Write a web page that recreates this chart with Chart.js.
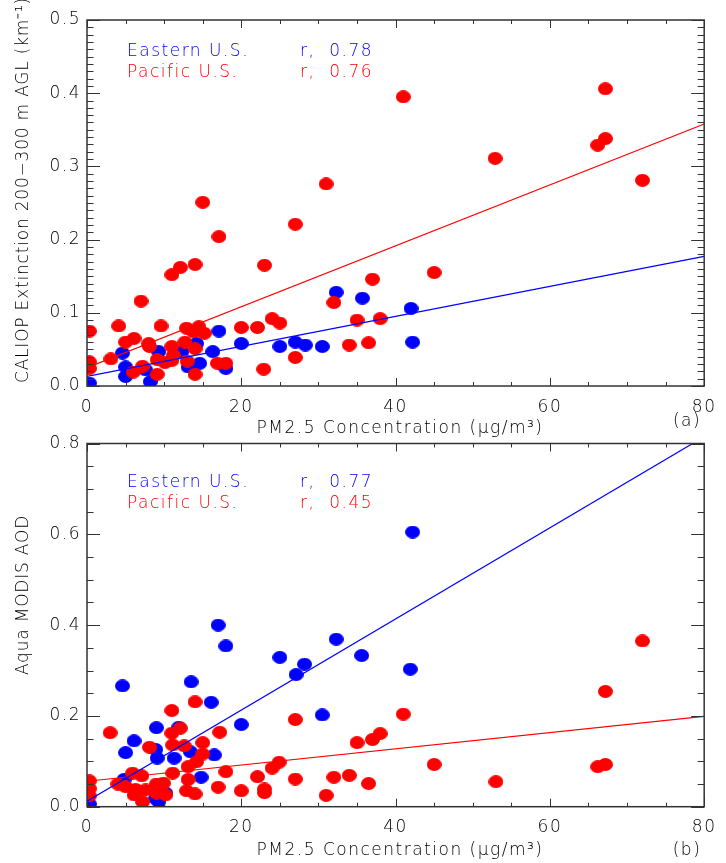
<!DOCTYPE html>
<html>
<head>
<meta charset="utf-8">
<script src="https://cdn.jsdelivr.net/npm/chart.js@4.4.1/dist/chart.umd.min.js"></script>
<style>
  body { margin: 0; background: #fff; width: 726px; height: 863px; position: relative; overflow: hidden; }
  canvas { position: absolute; left: 0; }
  #c1 { top: 0; }
  #c2 { top: 425px; }
</style>
</head>
<body>
<canvas id="c1" width="726" height="440"></canvas>
<canvas id="c2" width="726" height="438"></canvas>
<script>
// ---- data ----
const xTitle = 'PM2.5 Concentration (\u03bcg/m\u00b3)';
const seriesNames = ['Eastern U.S.', 'Pacific U.S.'];
const fitX = [0, 80];

// (a) CALIOP extinction vs PM2.5
const topTitle = 'CALIOP Extinction 200\u2212300 m AGL (km\u207b\u00b9)';
const topR = ['0.78', '0.76'];
const topEastX = [32.3, 35.7, 42.0, 42.2, 25.0, 27.0, 28.3, 30.5, 4.6, 0.3, 5.0, 5.0, 7.6, 8.2, 9.3, 12.3, 14.2, 13.1, 14.6, 17.1, 16.3, 18.0, 20.0];
const topEastY = [0.128, 0.120, 0.106, 0.060, 0.054, 0.060, 0.056, 0.054, 0.045, 0.004, 0.026, 0.013, 0.022, 0.006, 0.047, 0.047, 0.058, 0.026, 0.031, 0.075, 0.047, 0.024, 0.058];
const topPacX = [41.0, 67.2, 67.2, 66.2, 52.9, 72.0, 31.0, 15.0, 27.0, 17.1, 14.0, 12.1, 11.0, 23.0, 45.0, 37.0, 32.0, 7.0, 35.0, 38.0,
                 34.0, 36.5, 24.0, 25.0, 27.0, 22.9, 22.1, 20.0, 0.3, 4.1, 9.6, 12.9, 14.5, 15.2, 13.8, 5.0, 6.1, 8.0, 8.1, 3.1,
                 0.3, 0.3, 11.0, 11.2, 11.0, 12.7, 14.0, 9.1, 10.1, 7.2, 6.0, 9.1, 13.0, 14.0, 16.9, 18.0];
const topPacY = [0.395, 0.406, 0.338, 0.329, 0.311, 0.281, 0.276, 0.251, 0.221, 0.204, 0.166, 0.162, 0.152, 0.165, 0.155, 0.146, 0.114, 0.116, 0.090, 0.092,
                 0.056, 0.059, 0.092, 0.086, 0.039, 0.023, 0.080, 0.080, 0.075, 0.082, 0.082, 0.079, 0.081, 0.072, 0.074, 0.060, 0.065, 0.058, 0.054, 0.037,
                 0.033, 0.024, 0.054, 0.042, 0.035, 0.060, 0.051, 0.036, 0.032, 0.027, 0.019, 0.016, 0.034, 0.016, 0.031, 0.031];
const topEastFit = [0.013, 0.177];
const topPacFit = [0.025, 0.358];

// (b) Aqua MODIS AOD vs PM2.5
const botTitle = 'Aqua MODIS AOD';
const botR = ['0.77', '0.45'];
const botEastX = [42.2, 17.0, 18.0, 25.0, 28.2, 27.1, 32.3, 35.6, 41.9, 30.5, 4.6, 13.5, 16.1, 20.0, 9.0, 6.1, 5.0, 8.9, 9.1, 11.3,
                  11.9, 13.4, 16.5, 14.8, 4.8, 0.3, 8.9, 9.3, 10.2];
const botEastY = [0.605, 0.400, 0.354, 0.329, 0.314, 0.291, 0.369, 0.333, 0.303, 0.202, 0.266, 0.275, 0.230, 0.181, 0.174, 0.145, 0.119, 0.126, 0.107, 0.107,
                  0.175, 0.121, 0.114, 0.065, 0.060, 0.006, 0.018, 0.011, 0.030];
const botPacX = [27.0, 41.0, 35.0, 37.0, 38.0, 24.9, 24.0, 22.1, 27.0, 32.0, 34.0, 36.5, 45.0, 23.0, 23.0, 31.0, 53.0, 66.2, 67.2, 67.2,
                 72.0, 14.0, 11.0, 17.2, 3.0, 12.1, 11.0, 8.1, 11.1, 12.6, 15.0, 15.0, 14.2, 13.1, 13.1, 18.0, 11.1, 5.9, 7.1, 0.3,
                 0.3, 0.3, 4.0, 5.0, 6.3, 7.6, 9.0, 9.9, 9.0, 10.2, 6.1, 7.2, 12.9, 14.0, 17.0, 20.0];
const botPacY = [0.192, 0.204, 0.141, 0.148, 0.161, 0.098, 0.085, 0.066, 0.061, 0.065, 0.069, 0.051, 0.093, 0.039, 0.031, 0.025, 0.055, 0.088, 0.093, 0.254,
                 0.365, 0.231, 0.212, 0.164, 0.163, 0.173, 0.162, 0.131, 0.136, 0.134, 0.141, 0.116, 0.099, 0.088, 0.060, 0.077, 0.074, 0.074, 0.068, 0.057,
                 0.040, 0.024, 0.050, 0.044, 0.038, 0.037, 0.050, 0.052, 0.030, 0.026, 0.026, 0.011, 0.035, 0.028, 0.043, 0.035];
const botEastFit = [0.012, 0.815];
const botPacFit = [0.056, 0.199];

const BLUE = '#0000ff';
const RED = '#ff0000';
const FONT = 'DejaVu Sans';

function pts(xs, ys) {
    return xs.map((x, i) => ({ x: x, y: ys[i] }));
}

// filled ellipse used as the plot symbol
function ellipseMark(color) {
    const c = document.createElement('canvas');
    c.width = 15; c.height = 13;
    const g = c.getContext('2d');
    g.fillStyle = color;
    g.beginPath();
    g.ellipse(7.5, 6.5, 7.5, 6.5, 0, 0, Math.PI * 2);
    g.fill();
    return c;
}

// box with inward ticks on all four sides
const framePlugin = {
    id: 'frame',
    beforeDraw(chart) {
        chart.ctx.letterSpacing = '1.5px';
    },
    afterDatasetsDraw(chart, args, o) {
        const { ctx, chartArea: a } = chart;
        const x = chart.scales.x, y = chart.scales.y;
        const isMajor = (v, step) => Math.abs(v / step - Math.round(v / step)) < 1e-6;
        ctx.save();
        ctx.strokeStyle = '#333';
        ctx.lineWidth = 1;
        ctx.beginPath();
        for (let i = 0; i * o.xMinor <= x.max + 1e-9; i++) {
            const v = i * o.xMinor;
            const px = Math.round(x.getPixelForValue(v)) + 0.5;
            const len = isMajor(v, o.xMajor) ? 8 : 4;
            ctx.moveTo(px, a.bottom); ctx.lineTo(px, a.bottom - len);
            ctx.moveTo(px, a.top); ctx.lineTo(px, a.top + len);
        }
        for (let i = 0; i * o.yMinor <= y.max + 1e-9; i++) {
            const v = i * o.yMinor;
            const py = Math.round(y.getPixelForValue(v)) + 0.5;
            const len = isMajor(v, o.yMajor) ? 13 : 6.5;
            ctx.moveTo(a.left, py); ctx.lineTo(a.left + len, py);
            ctx.moveTo(a.right, py); ctx.lineTo(a.right - len, py);
        }
        ctx.stroke();
        ctx.lineWidth = 1.5;
        ctx.strokeRect(a.left, a.top, a.right - a.left, a.bottom - a.top);
        ctx.restore();
    }
};

// titles, r values and panel letter
const textPlugin = {
    id: 'panelText',
    afterDraw(chart, args, o) {
        const ctx = chart.ctx;
        ctx.save();
        ctx.font = '200 17px "' + FONT + '"';
        ctx.textBaseline = 'middle';
        ctx.letterSpacing = '1.5px';

        ctx.fillStyle = BLUE;
        ctx.textAlign = 'left';
        ctx.fillText(seriesNames[0], 127, o.legendY);
        ctx.fillText('r,  ' + o.r[0], 300, o.legendY);
        ctx.fillStyle = RED;
        ctx.fillText(seriesNames[1], 127, o.legendY + 21);
        ctx.fillText('r,  ' + o.r[1], 300, o.legendY + 21);

        ctx.fillStyle = '#000';
        ctx.textAlign = 'center';
        ctx.fillText(xTitle, 400, o.xTitleY);
        ctx.fillText(o.letter, 687, o.letterY);

        ctx.letterSpacing = '0.8px';
        ctx.translate(24, o.yTitleY);
        ctx.rotate(-Math.PI / 2);
        ctx.fillText(o.yTitle, 0, 0);
        ctx.restore();
    }
};

function makeChart(id, p) {
    const tickFont = { family: FONT, size: 17, weight: '200' };
    return new Chart(document.getElementById(id), {
        type: 'scatter',
        data: {
            datasets: [
                { data: pts(fitX, p.eastFit), showLine: true, borderColor: BLUE, borderWidth: 1.2, pointRadius: 0, clip: 0 },
                { data: pts(fitX, p.pacFit), showLine: true, borderColor: RED, borderWidth: 1.2, pointRadius: 0, clip: 0 },
                { data: pts(p.pacX, p.pacY), pointStyle: ellipseMark(RED), pointRadius: 7, clip: 0 },
                { data: pts(p.eastX, p.eastY), pointStyle: ellipseMark(BLUE), pointRadius: 7, clip: 0 }
            ]
        },
        options: {
            responsive: false,
            animation: false,
            events: [],
            layout: { padding: { top: p.padTop, right: 13, left: 0, bottom: 0 } },
            plugins: {
                legend: { display: false },
                tooltip: { enabled: false },
                frame: { xMinor: 5, xMajor: 20, yMinor: p.yMinor, yMajor: p.yMajor },
                panelText: p.text
            },
            scales: {
                x: {
                    type: 'linear', min: 0, max: 80,
                    grid: { display: false, drawTicks: false },
                    border: { display: false },
                    ticks: { stepSize: 20, padding: 11, color: '#000', font: tickFont, maxRotation: 0, autoSkip: false,
                             callback: v => String(v) },
                    afterFit: s => { s.height = p.xHeight; }
                },
                y: {
                    type: 'linear', min: 0, max: p.yMax,
                    grid: { display: false, drawTicks: false },
                    border: { display: false },
                    ticks: { stepSize: p.yMajor, padding: 6, color: '#000', font: tickFont, autoSkip: false,
                             callback: v => v.toFixed(1) },
                    afterFit: s => { s.width = 87; }
                }
            }
        },
        plugins: [framePlugin, textPlugin]
    });
}

makeChart('c1', {
    eastX: topEastX, eastY: topEastY, pacX: topPacX, pacY: topPacY,
    eastFit: topEastFit, pacFit: topPacFit,
    yMax: 0.5, yMajor: 0.1, yMinor: 0.01,
    padTop: 20, xHeight: 54,
    text: { yTitle: topTitle, yTitleY: 190, legendY: 52, r: topR, xTitleY: 429, letter: '(a)', letterY: 422 }
});

makeChart('c2', {
    eastX: botEastX, eastY: botEastY, pacX: botPacX, pacY: botPacY,
    eastFit: botEastFit, pacFit: botPacFit,
    yMax: 0.8, yMajor: 0.2, yMinor: 0.05,
    padTop: 18.5, xHeight: 56.3,
    text: { yTitle: botTitle, yTitleY: 170, legendY: 58, r: botR, xTitleY: 426, letter: '(b)', letterY: 426 }
});
</script>
</body>
</html>
